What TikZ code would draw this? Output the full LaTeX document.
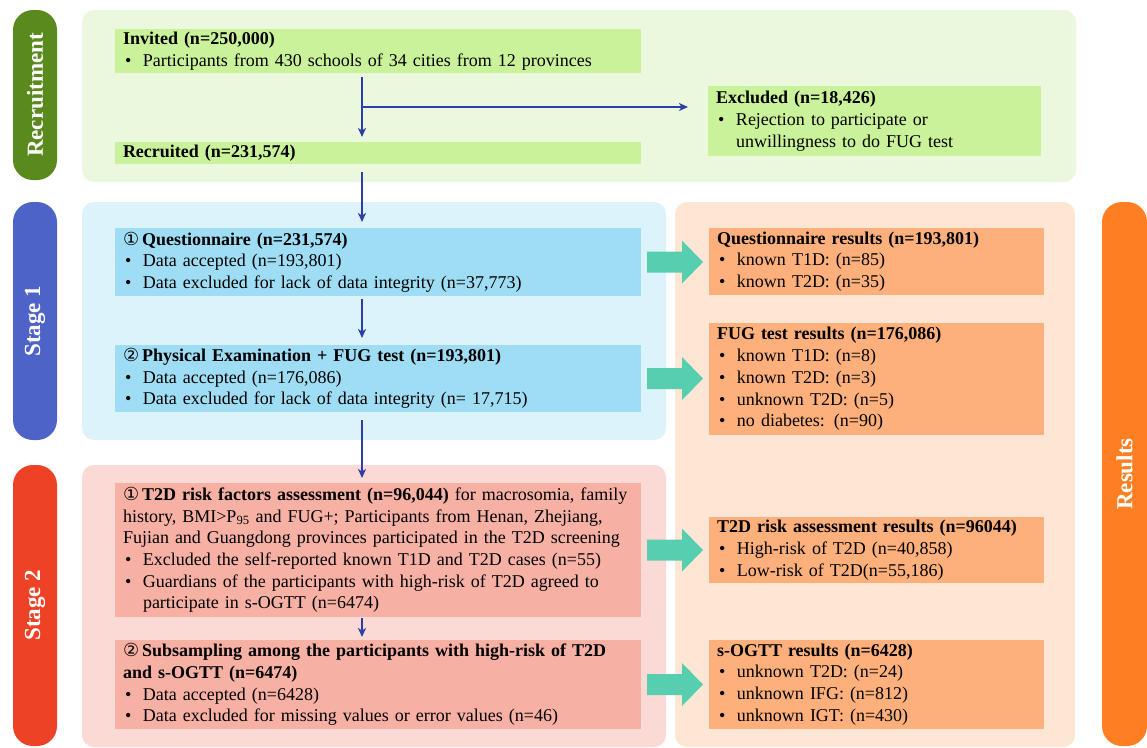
\documentclass[tikz,border=0pt]{standalone}
\usepackage{fontspec}
\setmainfont{Liberation Serif}
\newfontfamily\circfont{DejaVu Sans}
\usetikzlibrary{arrows.meta,calc}
\definecolor{recpill}{HTML}{5A8A1E}
\definecolor{recpanel}{HTML}{EBF8DD}
\definecolor{gbox}{HTML}{CAF29B}
\definecolor{s1pill}{HTML}{4E63C8}
\definecolor{s1panel}{HTML}{DDF3FC}
\definecolor{bbox}{HTML}{9FDDF5}
\definecolor{s2pill}{HTML}{EE4226}
\definecolor{s2panel}{HTML}{FBD9D4}
\definecolor{rbox}{HTML}{F7B0A4}
\definecolor{respanel}{HTML}{FDE6D4}
\definecolor{obox}{HTML}{FDB07B}
\definecolor{respill}{HTML}{FD7F22}
\definecolor{tealc}{HTML}{58CEB0}
\definecolor{arrblue}{HTML}{2B3FA5}
\newcommand\bl[1]{\par\noindent\makebox[20pt][l]{\hspace{2pt}\textbullet}#1}
\newcommand\cont{\\\hspace*{20pt}}
\newcommand\cnum[1]{{\circfont #1}\hspace{3pt}}
\newcommand\tealarrow[2]{%
  \path let \p1=($(#1.east)+(6,0)$), \p2=($(#2.west |- #1.east)+(-6,0)$) in
  [fill=tealc] (\x1,\y1+10.5pt) -- (\x2-21pt,\y1+10.5pt) -- (\x2-21pt,\y1+21.5pt)
  -- (\x2,\y1) -- (\x2-21pt,\y1-21.5pt) -- (\x2-21pt,\y1-10.5pt) -- (\x1,\y1-10.5pt) -- cycle;}
\tikzset{
  boxbase/.style={rectangle, anchor=north west, inner xsep=8pt, inner ysep=0pt, outer sep=0pt,
    align=left, font=\fontsize{18}{21.7}\selectfont},
  lbox/.style={boxbase, text width=510pt},
  rres/.style={boxbase, text width=319pt, fill=obox},
  pilltext/.style={rotate=90, text=white, font=\fontsize{23}{26}\selectfont\bfseries},
  barr/.style={draw=arrblue, line width=1.8pt, -{Stealth[length=9pt,width=8pt,inset=2.5pt]}},
}
\begin{document}
\begin{tikzpicture}[x=1pt,y=-1pt]
\useasboundingbox (0,0) rectangle (1147,747);
% panels
\fill[recpanel, rounded corners=12pt] (82,10) rectangle (1076,182);
\fill[s1panel, rounded corners=12pt] (82,202) rectangle (666,440);
\fill[s2panel, rounded corners=12pt] (82,465) rectangle (666,747);
\fill[respanel, rounded corners=12pt] (675,202) rectangle (1075,747);
% pills
\fill[recpill, rounded corners=20pt] (13,10) rectangle (57,180);
\node[pilltext] (lrec) at (35,95) {Recruitment};
\fill[s1pill, rounded corners=20pt] (13,202) rectangle (57,440);
\node[pilltext] (ls1) at (35,321) {Stage 1};
\fill[s2pill, rounded corners=20pt] (13,465) rectangle (57,746);
\node[pilltext] (ls2) at (35,605) {Stage 2};
\fill[respill, rounded corners=20pt] (1102,202) rectangle (1147,746);
\node[pilltext] (lres) at (1124.5,474) {Results};
% recruitment
\node[lbox, fill=gbox, minimum height=44pt] (inv) at (115,29)
  {\textbf{Invited (n=250,000)}
   \bl{Participants from 430 schools of 34 cities from 12 provinces}};
\node[boxbase, text width=317pt, fill=gbox, minimum height=70pt] (exc) at (708,86)
  {\textbf{Excluded (n=18,426)}
   \bl{Rejection to participate or\cont unwillingness to do FUG test}};
\node[lbox, fill=gbox, minimum height=22pt] (rec) at (115,142)
  {\textbf{Recruited (n=231,574)}};
% stage 1
\node[lbox, fill=bbox, minimum height=68pt] (que) at (115,228)
  {\cnum{①}\textbf{Questionnaire (n=231,574)}
   \bl{Data accepted (n=193,801)}
   \bl{Data excluded for lack of data integrity (n=37,773)}};
\node[lbox, fill=bbox, minimum height=67pt] (phy) at (115,345)
  {\cnum{②}\textbf{Physical Examination + FUG test (n=193,801)}
   \bl{Data accepted (n=176,086)}
   \bl{Data excluded for lack of data integrity (n= 17,715)}};
% stage 2
\node[lbox, fill=rbox, minimum height=134pt] (t2d) at (115,483)
  {\cnum{①}\textbf{T2D risk factors assessment (n=96,044)} for macrosomia, family\\
   history, BMI>P\textsubscript{95} and FUG+; Participants from Henan, Zhejiang,\\
   Fujian and Guangdong provinces participated in the T2D screening
   \bl{Excluded the self-reported known T1D and T2D cases (n=55)}
   \bl{Guardians of the participants with high-risk of T2D agreed to\cont participate in s-OGTT (n=6474)}};
\node[lbox, fill=rbox, minimum height=89pt] (sub) at (115,640)
  {\cnum{②}\textbf{Subsampling among the participants with high-risk of T2D\\ and s-OGTT (n=6474)}
   \bl{Data accepted (n=6428)}
   \bl{Data excluded for missing values or error values (n=46)}};
% results
\node[rres, minimum height=67pt] (qres) at (709,228)
  {\textbf{Questionnaire results (n=193,801)}
   \bl{known T1D: (n=85)}
   \bl{known T2D: (n=35)}};
\node[rres, minimum height=112pt] (fres) at (709,323)
  {\textbf{FUG test results (n=176,086)}
   \bl{known T1D: (n=8)}
   \bl{known T2D: (n=3)}
   \bl{unknown T2D: (n=5)}
   \bl{no diabetes: (n=90)}};
\node[rres, minimum height=66pt] (tres) at (709,517)
  {\textbf{T2D risk assessment results (n=96044)}
   \bl{High-risk of T2D (n=40,858)}
   \bl{Low-risk of T2D(n=55,186)}};
\node[rres, minimum height=89pt] (ores) at (709,640)
  {\textbf{s-OGTT results (n=6428)}
   \bl{unknown T2D: (n=24)}
   \bl{unknown IFG: (n=812)}
   \bl{unknown IGT: (n=430)}};
% blue connectors
\coordinate (sp) at (362,0);
\coordinate (br) at (362,107);
\draw[barr, shorten <=4pt, shorten >=5pt] (inv.south -| sp) -- (rec.north -| sp);
\draw[barr, shorten >=20pt] (br) -- (exc.west |- br);
\draw[barr, shorten <=8pt, shorten >=6pt] (rec.south -| sp) -- (que.north -| sp);
\draw[barr, shorten <=3pt, shorten >=7pt] (que.south -| sp) -- (phy.north -| sp);
\draw[barr, shorten <=8pt, shorten >=5pt] (phy.south -| sp) -- (t2d.north -| sp);
\draw[barr, shorten <=1pt, shorten >=3pt] (t2d.south -| sp) -- (sub.north -| sp);
% teal block arrows
\tealarrow{que}{qres}
\tealarrow{phy}{fres}
\tealarrow{t2d}{tres}
\tealarrow{sub}{ores}
\end{tikzpicture}
\end{document}
